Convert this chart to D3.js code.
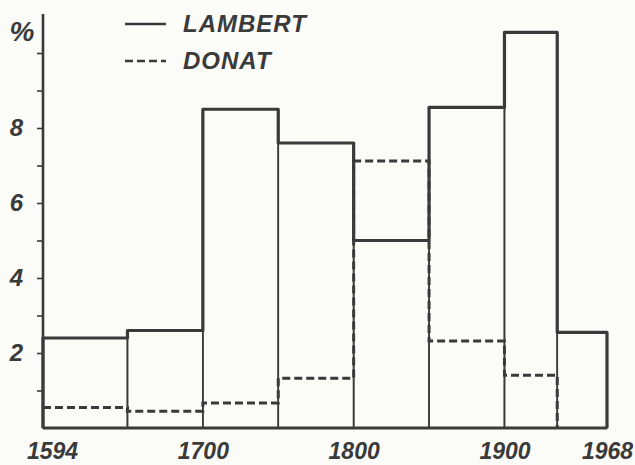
<!DOCTYPE html>
<html>
<head>
<meta charset="utf-8">
<script src="https://cdn.jsdelivr.net/npm/d3@7"></script>
<style>
  body { margin: 0; background: #fbfbf8; }
  svg { display: block; }
  .lbl { font-family: "Liberation Sans", Arial, sans-serif; font-weight: bold; font-style: italic; fill: #3a3a3a; }
</style>
</head>
<body>
<div id="chart"></div>
<script>
// bin edges (years) and percentages per bin
const edges   = [1594, 1650, 1700, 1750, 1800, 1850, 1900, 1935, 1968];
const lambert = [2.4, 2.6, 8.5, 7.6, 5.0, 8.55, 10.55, 2.55];
const donat   = [0.55, 0.45, 0.67, 1.33, 7.12, 2.32, 1.41];
const xTicks  = [1594, 1700, 1800, 1900, 1968];
const yTicks  = [1, 2, 3, 4, 5, 6, 7, 8, 9, 10];
const yLabels = [2, 4, 6, 8];

const width = 635, height = 465;
const ink = '#3a3a3a';

const svg = d3.select('#chart').append('svg')
    .attr('width', width).attr('height', height);

const x = d3.scaleLinear().domain([1594, 1968]).range([43, 607]);
const y = d3.scaleLinear().domain([0, 10]).range([428, 53]);

const bins = lambert.map((v, i) => ({x0: edges[i], x1: edges[i + 1], l: v}));

// thin bar dividers
svg.append('g').selectAll('rect')
    .data(bins)
    .join('rect')
    .attr('x', d => x(d.x0))
    .attr('y', d => y(d.l))
    .attr('width', d => x(d.x1) - x(d.x0))
    .attr('height', d => y(0) - y(d.l))
    .attr('fill', 'none')
    .attr('stroke', ink)
    .attr('stroke-width', 1.6);

// step outlines
function stepPts(vals) {
    const pts = [[edges[0], 0]];
    vals.forEach((v, i) => { pts.push([edges[i], v]); pts.push([edges[i + 1], v]); });
    pts.push([edges[vals.length], 0]);
    return pts;
}
const line = d3.line().x(d => x(d[0])).y(d => y(d[1]));

svg.append('path')
    .attr('d', line(stepPts(lambert)))
    .attr('fill', 'none').attr('stroke', ink)
    .attr('stroke-width', 3.2).attr('stroke-linejoin', 'round');

svg.append('path')
    .attr('d', line(stepPts(donat).slice(1)))
    .attr('fill', 'none').attr('stroke', ink)
    .attr('stroke-width', 3).attr('stroke-dasharray', '8,4');

// baseline
svg.append('line')
    .attr('x1', x(1594)).attr('x2', x(1968))
    .attr('y1', y(0)).attr('y2', y(0))
    .attr('stroke', ink).attr('stroke-width', 3.2);

// y axis: ticks only, labels drawn separately
const yAxis = svg.append('g')
    .attr('transform', `translate(${x(1594)},0)`)
    .call(d3.axisLeft(y).tickValues(yTicks).tickSize(6).tickFormat(''));
yAxis.select('.domain').remove();
yAxis.selectAll('line').attr('stroke', ink).attr('stroke-width', 1.6);
yAxis.append('line')
    .attr('y1', 14).attr('y2', y(0))
    .attr('stroke', ink).attr('stroke-width', 2.6);

svg.append('g').selectAll('text')
    .data(yLabels)
    .join('text')
    .attr('class', 'lbl')
    .attr('x', 23).attr('y', d => y(d) + 8)
    .attr('text-anchor', 'end')
    .style('font-size', '24px')
    .text(d => d);

svg.append('text').attr('class', 'lbl')
    .attr('x', 22).attr('y', 41).attr('text-anchor', 'middle')
    .style('font-size', '28px').text('%');

// x axis labels
const xAxis = svg.append('g')
    .attr('transform', `translate(0,${y(0)})`)
    .call(d3.axisBottom(x).tickValues(xTicks).tickSize(0).tickFormat(d3.format('d')));
xAxis.select('.domain').remove();
xAxis.selectAll('text')
    .attr('class', 'lbl').attr('y', 31).attr('dy', 0)
    .attr('dx', d => d === 1594 ? 9 : 0)
    .style('font-size', '23px').style('fill', ink);

// legend
const legend = [
    {name: 'LAMBERT', dash: null, y: 24},
    {name: 'DONAT', dash: '8,4', y: 61}
];
const lg = svg.append('g').selectAll('g').data(legend).join('g');
lg.append('line')
    .attr('x1', 125).attr('x2', 166)
    .attr('y1', d => d.y).attr('y2', d => d.y)
    .attr('stroke', ink).attr('stroke-width', 2.6)
    .attr('stroke-dasharray', d => d.dash);
lg.append('text').attr('class', 'lbl')
    .attr('x', 183).attr('y', d => d.y + 8)
    .style('font-size', '24px').style('letter-spacing', '1px')
    .text(d => d.name);
</script>
</body>
</html>
